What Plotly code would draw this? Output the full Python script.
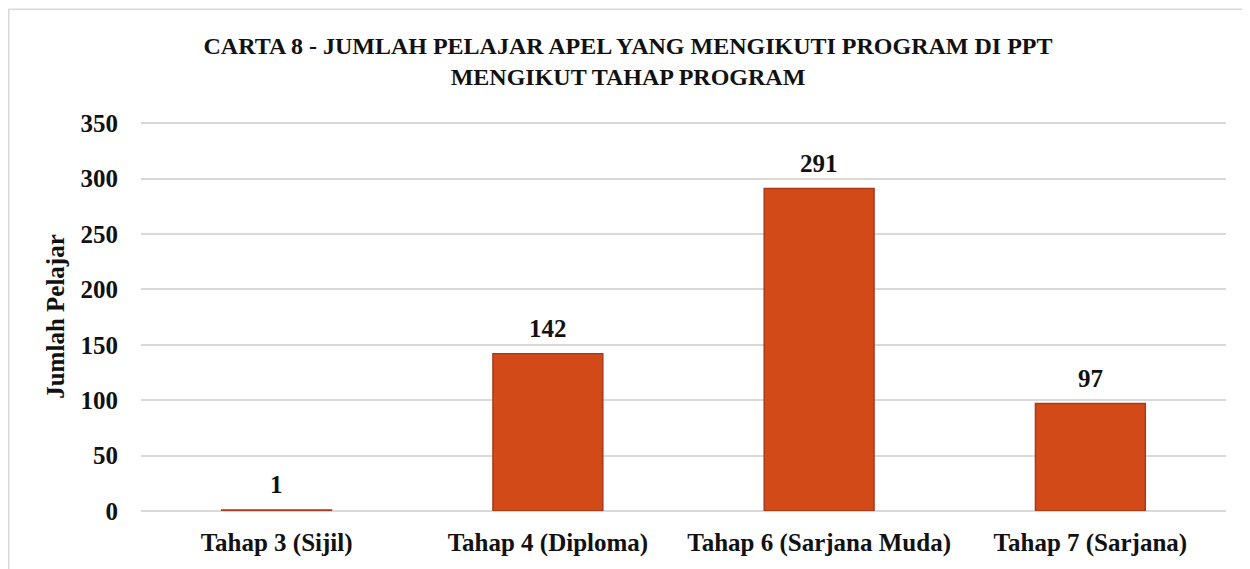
import plotly.graph_objects as go

categories = ["Tahap 3 (Sijil)", "Tahap 4 (Diploma)", "Tahap 6 (Sarjana Muda)", "Tahap 7 (Sarjana)"]
values = [1, 142, 291, 97]
y_ticks = [0, 50, 100, 150, 200, 250, 300, 350]

# page has an 8px body margin; figure coords = page coords - 8
W, H = 1242, 561
L, R, T, B = 133, 24, 114, 56
pw, ph = W - L - R, H - T - B

def px(x):
    return (x - L) / pw

def py(y):
    return (H - B - y) / ph

FONT = "Liberation Serif"
INK = "#111111"

fig = go.Figure()
fig.add_trace(go.Bar(
    x=categories, y=values,
    marker=dict(color="#D24A18", line=dict(color="#A93A1B", width=1.5)),
    hoverinfo="x+y",
))

annotations = []
for c, v in zip(categories, values):
    annotations.append(dict(
        x=c, y=v, xref="x", yref="y", text=str(v), showarrow=False,
        yanchor="bottom", yshift=10,
        font=dict(family=FONT, size=25, color=INK, weight="bold"),
    ))

fig.update_layout(
    width=W, height=H,
    margin=dict(l=L, r=R, t=T, b=B),
    paper_bgcolor="white", plot_bgcolor="white",
    bargap=0.595,
    showlegend=False,
    font=dict(family=FONT, color=INK),
    title=dict(
        text="CARTA 8 - JUMLAH PELAJAR APEL YANG MENGIKUTI PROGRAM DI PPT<br>MENGIKUT TAHAP PROGRAM",
        x=620 / W, xanchor="center", y=1 - 46 / H, yanchor="middle",
        font=dict(family=FONT, size=24, color=INK, weight="bold"),
    ),
    xaxis=dict(
        tickfont=dict(family=FONT, size=25, color=INK, weight="bold"),
        showgrid=False, showline=False, ticks="", ticklabelstandoff=14,
    ),
    yaxis=dict(
        range=[0, 351], tickvals=y_ticks,
        tickfont=dict(family=FONT, size=25, color=INK, weight="bold"),
        showgrid=True, gridcolor="#D9D9D9", gridwidth=1.5,
        zeroline=True, zerolinecolor="#D9D9D9", zerolinewidth=1.5,
        showline=False, ticks="", ticklabelstandoff=22,
        title=dict(text="Jumlah Pelajar", font=dict(family=FONT, size=25, color=INK, weight="bold"), standoff=8),
    ),
    annotations=annotations,
    shapes=[dict(
        type="rect", xref="paper", yref="paper",
        x0=px(0.75), x1=px(W + 20), y0=py(H + 20), y1=py(0.75),
        line=dict(color="#D9D9D9", width=1.5), fillcolor="rgba(0,0,0,0)",
        layer="below",
    )],
)

fig.write_html("out.html")
